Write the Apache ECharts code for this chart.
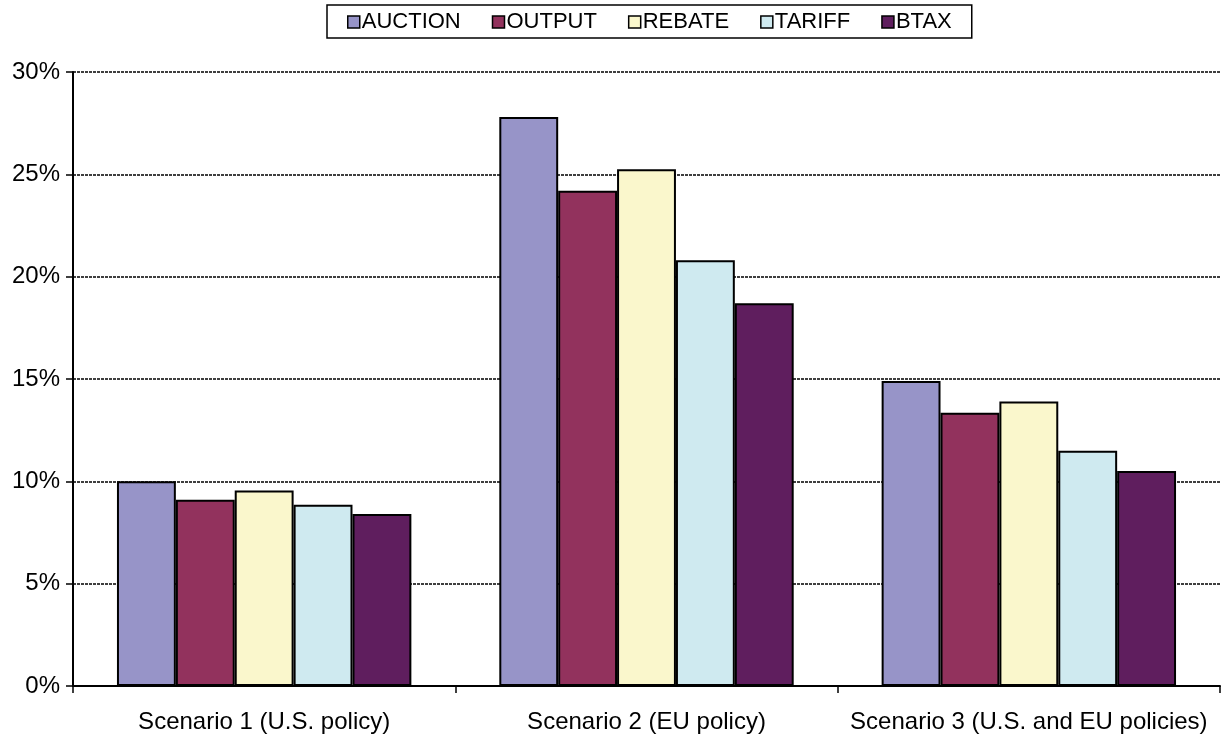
<!DOCTYPE html>
<html><head><meta charset="utf-8">
<script src="https://cdn.jsdelivr.net/npm/echarts@6/dist/echarts.min.js"></script>
<style>html,body{margin:0;padding:0;background:#fff}#c{width:1221px;height:737px}</style>
</head><body><div id="c"></div>
<script>
const categories = ['Scenario 1 (U.S. policy)', 'Scenario 2 (EU policy)', 'Scenario 3 (U.S. and EU policies)'];
const seriesNames = ['AUCTION', 'OUTPUT', 'REBATE', 'TARIFF', 'BTAX'];
const auction = [10.0, 27.8, 14.9];
const output = [9.1, 24.2, 13.35];
const rebate = [9.55, 25.25, 13.9];
const tariff = [8.85, 20.8, 11.5];
const btax = [8.4, 18.7, 10.5];
const colors = ['#9794c8', '#92325d', '#faf7cc', '#cfeaf0', '#5f1e5e'];
const yTicks = [0, 5, 10, 15, 20, 25, 30];

const values = [auction, output, rebate, tariff, btax];
const chart = echarts.init(document.getElementById('c'));
chart.setOption({
  animation: false,
  textStyle: {fontFamily: 'Liberation Sans, Arial, sans-serif'},
  legend: {
    top: 5, left: 327,
    data: seriesNames,
    itemWidth: 12, itemHeight: 12, itemGap: 31,
    icon: 'rect',
    borderColor: '#000', borderWidth: 1.5,
    padding: [6, 20, 5, 20],
    textStyle: {fontSize: 22, color: '#000', padding: [0, 0, 0, -3]},
    itemStyle: {borderColor: '#000', borderWidth: 1.5}
  },
  grid: {left: 73, right: 1, top: 72, bottom: 51},
  xAxis: {
    type: 'category', data: categories,
    axisLine: {lineStyle: {color: '#000', width: 2}},
    axisTick: {show: true, interval: 0, length: 7, lineStyle: {color: '#000', width: 1.5}},
    axisLabel: {fontSize: 24, color: '#000', margin: 24, interval: 0, hideOverlap: false}
  },
  yAxis: {
    type: 'value', min: 0, max: 30, interval: 5,
    axisLine: {show: true, lineStyle: {color: '#000', width: 2}},
    axisTick: {show: true, length: 7, lineStyle: {color: '#000', width: 1.5}},
    axisLabel: {fontSize: 24, color: '#000', margin: 13, formatter: v => yTicks.includes(v) ? v + '%' : ''},
    splitLine: {show: true, lineStyle: {color: '#000', width: 1.5, type: [3, 1]}}
  },
  series: seriesNames.map((n, i) => ({
    name: n, type: 'bar', data: values[i],
    barGap: '0%', barCategoryGap: '23%',
    itemStyle: {color: colors[i], borderColor: '#000', borderWidth: 2}
  }))
});
</script></body></html>
